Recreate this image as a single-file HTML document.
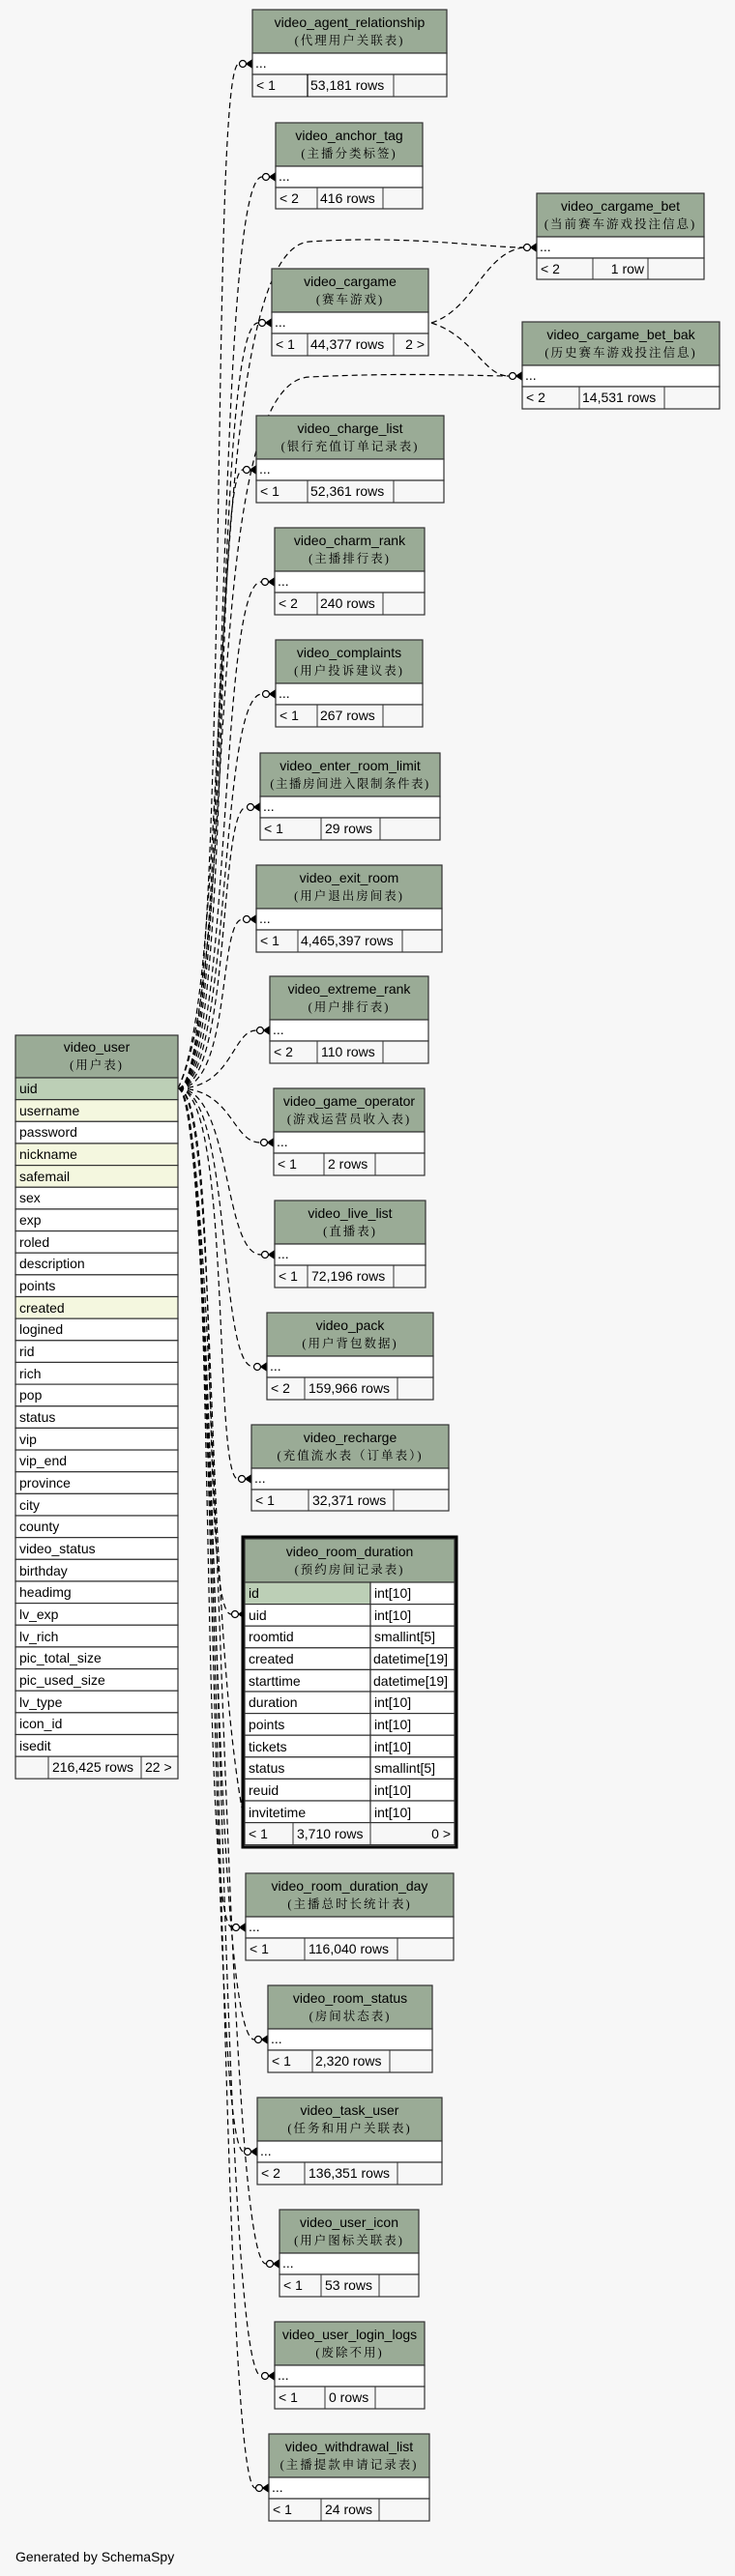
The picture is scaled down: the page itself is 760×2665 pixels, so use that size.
<!DOCTYPE html>
<html><head><meta charset="utf-8"><style>
html,body{margin:0;padding:0;background:#f7f7f7;}
svg{display:block;}
.t{font-family:"Liberation Sans","Noto Sans CJK SC",sans-serif;font-size:14px;fill:#000;}
.s{font-family:"Liberation Serif","Noto Serif CJK SC",serif;font-size:12.5px;letter-spacing:2px;fill:#000;}
.h{fill:#9aab96;stroke:#333;stroke-width:1.2;}
.w{fill:#fff;stroke:#333;stroke-width:1.2;}
.f{fill:#f7f7f7;stroke:#333;stroke-width:1.2;}
.k{fill:#bccfb6;stroke:#333;stroke-width:1.2;}
.y{fill:#f4f7df;stroke:#333;stroke-width:1.2;}
.c{fill:none;stroke:#000;stroke-width:1.2;stroke-dasharray:6,4;}
.m{fill:#fff;stroke:#000;stroke-width:1.2;}
.l{stroke:#000;stroke-width:1.5;}
</style></head><body>
<svg width="760" height="2665" viewBox="0 0 760 2665" xmlns="http://www.w3.org/2000/svg">
<rect width="760" height="2665" fill="#f7f7f7"/>

<!-- connectors -->
<g>
<path class="c" d="M184,1126 C240,1126 215,66 247,66"/>
<path class="c" d="M184,1126 C240,1126 220,183 271,183"/>
<path class="c" d="M184,1126 C245,1000 205,258 320,250 C420,243 500,256 541,256"/>
<path class="c" d="M184,1126 C240,1126 218,334 267,334"/>
<path class="c" d="M184,1126 C248,1000 205,395 320,390 C420,385 500,389 526,389"/>
<path class="c" d="M446,334 C490,320 500,262 541,256"/>
<path class="c" d="M446,334 C490,348 500,389 526,389"/>
<path class="c" d="M184,1126 C240,1126 220,486 251,486"/>
<path class="c" d="M184,1126 C240,1126 225,602 270,602"/>
<path class="c" d="M184,1126 C240,1126 225,718 271,718"/>
<path class="c" d="M184,1126 C240,1126 225,835 255,835"/>
<path class="c" d="M184,1126 C240,1126 225,951 251,951"/>
<path class="c" d="M184,1126 C240,1126 240,1066 265,1066"/>
<path class="c" d="M184,1126 C240,1126 240,1182 269,1182"/>
<path class="c" d="M184,1126 C240,1126 230,1298 270,1298"/>
<path class="c" d="M184,1126 C240,1126 225,1414 262,1414"/>
<path class="c" d="M184,1126 C240,1126 220,1530 246,1530"/>
<path class="c" d="M184,1126 C230,1126 205,1670 239,1670"/>
<path class="c" d="M184,1126 C225,1126 205,1994 240,1994"/>
<path class="c" d="M184,1126 C225,1126 215,2110 263,2110"/>
<path class="c" d="M184,1126 C225,1126 215,2226 252,2226"/>
<path class="c" d="M184,1126 C228,1126 230,2342 275,2342"/>
<path class="c" d="M184,1126 C228,1126 225,2458 270,2458"/>
<path class="c" d="M184,1126 C228,1126 225,2574 264,2574"/>
<path class="c" d="M184,1126 C225,1126 210,1640 250,1870"/>
</g>

<!-- crow's feet -->
<g>
<circle class="m" cx="251" cy="66" r="3.5"/><path class="l" d="M261,62 L255,66 L261,70 M255,66 L261,66"/>
<circle class="m" cx="275" cy="183" r="3.5"/><path class="l" d="M285,179 L279,183 L285,187 M279,183 L285,183"/>
<circle class="m" cx="545" cy="256" r="3.5"/><path class="l" d="M555,252 L549,256 L555,260 M549,256 L555,256"/>
<circle class="m" cx="271" cy="334" r="3.5"/><path class="l" d="M281,330 L275,334 L281,338 M275,334 L281,334"/>
<circle class="m" cx="530" cy="389" r="3.5"/><path class="l" d="M540,385 L534,389 L540,393 M534,389 L540,389"/>
<circle class="m" cx="255" cy="486" r="3.5"/><path class="l" d="M265,482 L259,486 L265,490 M259,486 L265,486"/>
<circle class="m" cx="274" cy="602" r="3.5"/><path class="l" d="M284,598 L278,602 L284,606 M278,602 L284,602"/>
<circle class="m" cx="275" cy="718" r="3.5"/><path class="l" d="M285,714 L279,718 L285,722 M279,718 L285,718"/>
<circle class="m" cx="259" cy="835" r="3.5"/><path class="l" d="M269,831 L263,835 L269,839 M263,835 L269,835"/>
<circle class="m" cx="255" cy="951" r="3.5"/><path class="l" d="M265,947 L259,951 L265,955 M259,951 L265,951"/>
<circle class="m" cx="269" cy="1066" r="3.5"/><path class="l" d="M279,1062 L273,1066 L279,1070 M273,1066 L279,1066"/>
<circle class="m" cx="273" cy="1182" r="3.5"/><path class="l" d="M283,1178 L277,1182 L283,1186 M277,1182 L283,1182"/>
<circle class="m" cx="274" cy="1298" r="3.5"/><path class="l" d="M284,1294 L278,1298 L284,1302 M278,1298 L284,1298"/>
<circle class="m" cx="266" cy="1414" r="3.5"/><path class="l" d="M276,1410 L270,1414 L276,1418 M270,1414 L276,1414"/>
<circle class="m" cx="250" cy="1530" r="3.5"/><path class="l" d="M260,1526 L254,1530 L260,1534 M254,1530 L260,1530"/>
<circle class="m" cx="243" cy="1670" r="3.5"/><path class="l" d="M253,1666 L247,1670 L253,1674 M247,1670 L253,1670"/>
<circle class="m" cx="244" cy="1994" r="3.5"/><path class="l" d="M254,1990 L248,1994 L254,1998 M248,1994 L254,1994"/>
<circle class="m" cx="267" cy="2110" r="3.5"/><path class="l" d="M277,2106 L271,2110 L277,2114 M271,2110 L277,2110"/>
<circle class="m" cx="256" cy="2226" r="3.5"/><path class="l" d="M266,2222 L260,2226 L266,2230 M260,2226 L266,2226"/>
<circle class="m" cx="279" cy="2342" r="3.5"/><path class="l" d="M289,2338 L283,2342 L289,2346 M283,2342 L289,2342"/>
<circle class="m" cx="274" cy="2458" r="3.5"/><path class="l" d="M284,2454 L278,2458 L284,2462 M278,2458 L284,2458"/>
<circle class="m" cx="268" cy="2574" r="3.5"/><path class="l" d="M278,2570 L272,2574 L278,2578 M272,2574 L278,2574"/>
</g>

<!-- simple tables -->
<g>
<!-- agent -->
<rect class="h" x="261" y="10" width="201" height="45"/><text class="t" x="361.5" y="28" text-anchor="middle">video_agent_relationship</text><text class="s" x="361.5" y="46" text-anchor="middle">(代理用户关联表)</text>
<rect class="w" x="261" y="55" width="201" height="22"/><text class="t" x="264" y="70">...</text>
<rect class="f" x="261" y="77" width="201" height="23"/><line class="l" x1="318" y1="77" x2="318" y2="100" style="stroke-width:1.2"/><line x1="407" y1="77" x2="407" y2="100" stroke="#333"/>
<text class="t" x="265" y="93">&lt; 1</text><text class="t" x="321" y="93">53,181 rows</text>

<!-- anchor -->
<rect class="h" x="285" y="127" width="152" height="45"/><text class="t" x="361" y="145" text-anchor="middle">video_anchor_tag</text><text class="s" x="361" y="163" text-anchor="middle">(主播分类标签)</text>
<rect class="w" x="285" y="172" width="152" height="22"/><text class="t" x="288" y="187">...</text>
<rect class="f" x="285" y="194" width="152" height="22"/><line x1="328" y1="194" x2="328" y2="216" stroke="#333"/><line x1="396" y1="194" x2="396" y2="216" stroke="#333"/>
<text class="t" x="289" y="210">&lt; 2</text><text class="t" x="331" y="210">416 rows</text>

<!-- cargame_bet -->
<rect class="h" x="555" y="200" width="173" height="45"/><text class="t" x="641.5" y="218" text-anchor="middle">video_cargame_bet</text><text class="s" x="641.5" y="236" text-anchor="middle">(当前赛车游戏投注信息)</text>
<rect class="w" x="555" y="245" width="173" height="22"/><text class="t" x="558" y="260">...</text>
<rect class="f" x="555" y="267" width="173" height="22"/><line x1="613" y1="267" x2="613" y2="289" stroke="#333"/><line x1="670" y1="267" x2="670" y2="289" stroke="#333"/>
<text class="t" x="559" y="283">&lt; 2</text><text class="t" x="666" y="283" text-anchor="end">1 row</text>

<!-- cargame -->
<rect class="h" x="281" y="278" width="162" height="45"/><text class="t" x="362" y="296" text-anchor="middle">video_cargame</text><text class="s" x="362" y="314" text-anchor="middle">(赛车游戏)</text>
<rect class="w" x="281" y="323" width="162" height="22"/><text class="t" x="284" y="338">...</text>
<rect class="f" x="281" y="345" width="162" height="23"/><line x1="318" y1="345" x2="318" y2="368" stroke="#333"/><line x1="407" y1="345" x2="407" y2="368" stroke="#333"/>
<text class="t" x="285" y="361">&lt; 1</text><text class="t" x="321" y="361">44,377 rows</text><text class="t" x="439" y="361" text-anchor="end">2 &gt;</text>

<!-- bet_bak -->
<rect class="h" x="540" y="333" width="204" height="45"/><text class="t" x="642" y="351" text-anchor="middle">video_cargame_bet_bak</text><text class="s" x="642" y="369" text-anchor="middle">(历史赛车游戏投注信息)</text>
<rect class="w" x="540" y="378" width="204" height="22"/><text class="t" x="543" y="393">...</text>
<rect class="f" x="540" y="400" width="204" height="23"/><line x1="599" y1="400" x2="599" y2="423" stroke="#333"/><line x1="687" y1="400" x2="687" y2="423" stroke="#333"/>
<text class="t" x="544" y="416">&lt; 2</text><text class="t" x="602" y="416">14,531 rows</text>

<!-- charge_list -->
<rect class="h" x="265" y="430" width="194" height="45"/><text class="t" x="362" y="448" text-anchor="middle">video_charge_list</text><text class="s" x="362" y="466" text-anchor="middle">(银行充值订单记录表)</text>
<rect class="w" x="265" y="475" width="194" height="22"/><text class="t" x="268" y="490">...</text>
<rect class="f" x="265" y="497" width="194" height="23"/><line x1="318" y1="497" x2="318" y2="520" stroke="#333"/><line x1="407" y1="497" x2="407" y2="520" stroke="#333"/>
<text class="t" x="269" y="513">&lt; 1</text><text class="t" x="321" y="513">52,361 rows</text>

<!-- charm_rank -->
<rect class="h" x="284" y="546" width="155" height="45"/><text class="t" x="361.5" y="564" text-anchor="middle">video_charm_rank</text><text class="s" x="361.5" y="582" text-anchor="middle">(主播排行表)</text>
<rect class="w" x="284" y="591" width="155" height="22"/><text class="t" x="287" y="606">...</text>
<rect class="f" x="284" y="613" width="155" height="23"/><line x1="328" y1="613" x2="328" y2="636" stroke="#333"/><line x1="396" y1="613" x2="396" y2="636" stroke="#333"/>
<text class="t" x="288" y="629">&lt; 2</text><text class="t" x="331" y="629">240 rows</text>

<!-- complaints -->
<rect class="h" x="285" y="662" width="152" height="45"/><text class="t" x="361" y="680" text-anchor="middle">video_complaints</text><text class="s" x="361" y="698" text-anchor="middle">(用户投诉建议表)</text>
<rect class="w" x="285" y="707" width="152" height="22"/><text class="t" x="288" y="722">...</text>
<rect class="f" x="285" y="729" width="152" height="23"/><line x1="328" y1="729" x2="328" y2="752" stroke="#333"/><line x1="396" y1="729" x2="396" y2="752" stroke="#333"/>
<text class="t" x="289" y="745">&lt; 1</text><text class="t" x="331" y="745">267 rows</text>

<!-- enter_room_limit -->
<rect class="h" x="269" y="779" width="186" height="45"/><text class="t" x="362" y="797" text-anchor="middle">video_enter_room_limit</text><text class="s" x="362" y="815" text-anchor="middle" style="letter-spacing:1.5px">(主播房间进入限制条件表)</text>
<rect class="w" x="269" y="824" width="186" height="22"/><text class="t" x="272" y="839">...</text>
<rect class="f" x="269" y="846" width="186" height="23"/><line x1="332" y1="846" x2="332" y2="869" stroke="#333"/><line x1="393" y1="846" x2="393" y2="869" stroke="#333"/>
<text class="t" x="273" y="862">&lt; 1</text><text class="t" x="336" y="862">29 rows</text>

<!-- exit_room -->
<rect class="h" x="265" y="895" width="192" height="45"/><text class="t" x="361" y="913" text-anchor="middle">video_exit_room</text><text class="s" x="361" y="931" text-anchor="middle">(用户退出房间表)</text>
<rect class="w" x="265" y="940" width="192" height="22"/><text class="t" x="268" y="955">...</text>
<rect class="f" x="265" y="962" width="192" height="23"/><line x1="308" y1="962" x2="308" y2="985" stroke="#333"/><line x1="416" y1="962" x2="416" y2="985" stroke="#333"/>
<text class="t" x="269" y="978">&lt; 1</text><text class="t" x="311" y="978">4,465,397 rows</text>

<!-- extreme_rank -->
<rect class="h" x="279" y="1010" width="164" height="45"/><text class="t" x="361" y="1028" text-anchor="middle">video_extreme_rank</text><text class="s" x="361" y="1046" text-anchor="middle">(用户排行表)</text>
<rect class="w" x="279" y="1055" width="164" height="22"/><text class="t" x="282" y="1070">...</text>
<rect class="f" x="279" y="1077" width="164" height="23"/><line x1="328" y1="1077" x2="328" y2="1100" stroke="#333"/><line x1="396" y1="1077" x2="396" y2="1100" stroke="#333"/>
<text class="t" x="283" y="1093">&lt; 2</text><text class="t" x="332" y="1093">110 rows</text>

<!-- game_operator -->
<rect class="h" x="283" y="1126" width="156" height="45"/><text class="t" x="361" y="1144" text-anchor="middle">video_game_operator</text><text class="s" x="361" y="1162" text-anchor="middle">(游戏运营员收入表)</text>
<rect class="w" x="283" y="1171" width="156" height="22"/><text class="t" x="286" y="1186">...</text>
<rect class="f" x="283" y="1193" width="156" height="23"/><line x1="335" y1="1193" x2="335" y2="1216" stroke="#333"/><line x1="388" y1="1193" x2="388" y2="1216" stroke="#333"/>
<text class="t" x="287" y="1209">&lt; 1</text><text class="t" x="339" y="1209">2 rows</text>

<!-- live_list -->
<rect class="h" x="284" y="1242" width="156" height="45"/><text class="t" x="362" y="1260" text-anchor="middle">video_live_list</text><text class="s" x="362" y="1278" text-anchor="middle">(直播表)</text>
<rect class="w" x="284" y="1287" width="156" height="22"/><text class="t" x="287" y="1302">...</text>
<rect class="f" x="284" y="1309" width="156" height="23"/><line x1="318" y1="1309" x2="318" y2="1332" stroke="#333"/><line x1="407" y1="1309" x2="407" y2="1332" stroke="#333"/>
<text class="t" x="288" y="1325">&lt; 1</text><text class="t" x="322" y="1325">72,196 rows</text>

<!-- pack -->
<rect class="h" x="276" y="1358" width="172" height="45"/><text class="t" x="362" y="1376" text-anchor="middle">video_pack</text><text class="s" x="362" y="1394" text-anchor="middle">(用户背包数据)</text>
<rect class="w" x="276" y="1403" width="172" height="22"/><text class="t" x="279" y="1418">...</text>
<rect class="f" x="276" y="1425" width="172" height="23"/><line x1="315" y1="1425" x2="315" y2="1448" stroke="#333"/><line x1="411" y1="1425" x2="411" y2="1448" stroke="#333"/>
<text class="t" x="280" y="1441">&lt; 2</text><text class="t" x="319" y="1441">159,966 rows</text>

<!-- recharge -->
<rect class="h" x="260" y="1474" width="204" height="45"/><text class="t" x="362" y="1492" text-anchor="middle">video_recharge</text><text class="s" x="362" y="1510" text-anchor="middle">(充值流水表（订单表）)</text>
<rect class="w" x="260" y="1519" width="204" height="22"/><text class="t" x="263" y="1534">...</text>
<rect class="f" x="260" y="1541" width="204" height="22"/><line x1="319" y1="1541" x2="319" y2="1563" stroke="#333"/><line x1="407" y1="1541" x2="407" y2="1563" stroke="#333"/>
<text class="t" x="264" y="1557">&lt; 1</text><text class="t" x="323" y="1557">32,371 rows</text>

<!-- room_duration_day -->
<rect class="h" x="254" y="1938" width="215" height="45"/><text class="t" x="361.5" y="1956" text-anchor="middle">video_room_duration_day</text><text class="s" x="361.5" y="1974" text-anchor="middle">(主播总时长统计表)</text>
<rect class="w" x="254" y="1983" width="215" height="22"/><text class="t" x="257" y="1998">...</text>
<rect class="f" x="254" y="2005" width="215" height="23"/><line x1="315" y1="2005" x2="315" y2="2028" stroke="#333"/><line x1="411" y1="2005" x2="411" y2="2028" stroke="#333"/>
<text class="t" x="258" y="2021">&lt; 1</text><text class="t" x="319" y="2021">116,040 rows</text>

<!-- room_status -->
<rect class="h" x="277" y="2054" width="170" height="45"/><text class="t" x="362" y="2072" text-anchor="middle">video_room_status</text><text class="s" x="362" y="2090" text-anchor="middle">(房间状态表)</text>
<rect class="w" x="277" y="2099" width="170" height="22"/><text class="t" x="280" y="2114">...</text>
<rect class="f" x="277" y="2121" width="170" height="23"/><line x1="323" y1="2121" x2="323" y2="2144" stroke="#333"/><line x1="403" y1="2121" x2="403" y2="2144" stroke="#333"/>
<text class="t" x="281" y="2137">&lt; 1</text><text class="t" x="326" y="2137">2,320 rows</text>

<!-- task_user -->
<rect class="h" x="266" y="2170" width="191" height="45"/><text class="t" x="361.5" y="2188" text-anchor="middle">video_task_user</text><text class="s" x="361.5" y="2206" text-anchor="middle">(任务和用户关联表)</text>
<rect class="w" x="266" y="2215" width="191" height="22"/><text class="t" x="269" y="2230">...</text>
<rect class="f" x="266" y="2237" width="191" height="23"/><line x1="315" y1="2237" x2="315" y2="2260" stroke="#333"/><line x1="411" y1="2237" x2="411" y2="2260" stroke="#333"/>
<text class="t" x="270" y="2253">&lt; 2</text><text class="t" x="319" y="2253">136,351 rows</text>

<!-- user_icon -->
<rect class="h" x="289" y="2286" width="144" height="45"/><text class="t" x="361" y="2304" text-anchor="middle">video_user_icon</text><text class="s" x="361" y="2322" text-anchor="middle">(用户图标关联表)</text>
<rect class="w" x="289" y="2331" width="144" height="22"/><text class="t" x="292" y="2346">...</text>
<rect class="f" x="289" y="2353" width="144" height="23"/><line x1="332" y1="2353" x2="332" y2="2376" stroke="#333"/><line x1="392" y1="2353" x2="392" y2="2376" stroke="#333"/>
<text class="t" x="293" y="2369">&lt; 1</text><text class="t" x="336" y="2369">53 rows</text>

<!-- login_logs -->
<rect class="h" x="284" y="2402" width="155" height="45"/><text class="t" x="361.5" y="2420" text-anchor="middle">video_user_login_logs</text><text class="s" x="361.5" y="2438" text-anchor="middle">(废除不用)</text>
<rect class="w" x="284" y="2447" width="155" height="22"/><text class="t" x="287" y="2462">...</text>
<rect class="f" x="284" y="2469" width="155" height="23"/><line x1="336" y1="2469" x2="336" y2="2492" stroke="#333"/><line x1="388" y1="2469" x2="388" y2="2492" stroke="#333"/>
<text class="t" x="288" y="2485">&lt; 1</text><text class="t" x="340" y="2485">0 rows</text>

<!-- withdrawal -->
<rect class="h" x="278" y="2518" width="166" height="45"/><text class="t" x="361" y="2536" text-anchor="middle">video_withdrawal_list</text><text class="s" x="361" y="2554" text-anchor="middle">(主播提款申请记录表)</text>
<rect class="w" x="278" y="2563" width="166" height="22"/><text class="t" x="281" y="2578">...</text>
<rect class="f" x="278" y="2585" width="166" height="23"/><line x1="332" y1="2585" x2="332" y2="2608" stroke="#333"/><line x1="392" y1="2585" x2="392" y2="2608" stroke="#333"/>
<text class="t" x="282" y="2601">&lt; 1</text><text class="t" x="336" y="2601">24 rows</text>
</g>

<!-- video_room_duration -->
<g>
<rect x="251" y="1590" width="221" height="321" fill="none" stroke="#000" stroke-width="3"/>
<rect class="h" x="253" y="1592" width="217" height="45"/><text class="t" x="361.5" y="1610" text-anchor="middle">video_room_duration</text><text class="s" x="361.5" y="1628" text-anchor="middle">(预约房间记录表)</text>
<rect class="k" x="253" y="1637" width="130" height="22.6"/><rect class="w" x="383" y="1637" width="87" height="22.6"/><text class="t" x="257" y="1653">id</text><text class="t" x="387" y="1653">int[10]</text>
<rect class="w" x="253" y="1659.6" width="130" height="22.6"/><rect class="w" x="383" y="1659.6" width="87" height="22.6"/><text class="t" x="257" y="1676">uid</text><text class="t" x="387" y="1676">int[10]</text>
<rect class="w" x="253" y="1682.2" width="130" height="22.6"/><rect class="w" x="383" y="1682.2" width="87" height="22.6"/><text class="t" x="257" y="1698">roomtid</text><text class="t" x="387" y="1698">smallint[5]</text>
<rect class="w" x="253" y="1704.8" width="130" height="22.6"/><rect class="w" x="383" y="1704.8" width="87" height="22.6"/><text class="t" x="257" y="1721">created</text><text class="t" x="386" y="1721">datetime[19]</text>
<rect class="w" x="253" y="1727.4" width="130" height="22.6"/><rect class="w" x="383" y="1727.4" width="87" height="22.6"/><text class="t" x="257" y="1744">starttime</text><text class="t" x="386" y="1744">datetime[19]</text>
<rect class="w" x="253" y="1750" width="130" height="22.6"/><rect class="w" x="383" y="1750" width="87" height="22.6"/><text class="t" x="257" y="1766">duration</text><text class="t" x="387" y="1766">int[10]</text>
<rect class="w" x="253" y="1772.6" width="130" height="22.6"/><rect class="w" x="383" y="1772.6" width="87" height="22.6"/><text class="t" x="257" y="1789">points</text><text class="t" x="387" y="1789">int[10]</text>
<rect class="w" x="253" y="1795.2" width="130" height="22.6"/><rect class="w" x="383" y="1795.2" width="87" height="22.6"/><text class="t" x="257" y="1812">tickets</text><text class="t" x="387" y="1812">int[10]</text>
<rect class="w" x="253" y="1817.8" width="130" height="22.6"/><rect class="w" x="383" y="1817.8" width="87" height="22.6"/><text class="t" x="257" y="1834">status</text><text class="t" x="387" y="1834">smallint[5]</text>
<rect class="w" x="253" y="1840.4" width="130" height="22.6"/><rect class="w" x="383" y="1840.4" width="87" height="22.6"/><text class="t" x="257" y="1857">reuid</text><text class="t" x="387" y="1857">int[10]</text>
<rect class="w" x="253" y="1863" width="130" height="22.6"/><rect class="w" x="383" y="1863" width="87" height="22.6"/><text class="t" x="257" y="1880">invitetime</text><text class="t" x="387" y="1880">int[10]</text>
<rect class="f" x="253" y="1885.6" width="217" height="23"/><line x1="303" y1="1885.6" x2="303" y2="1908.6" stroke="#333"/><line x1="383" y1="1885.6" x2="383" y2="1908.6" stroke="#333"/>
<text class="t" x="257" y="1902">&lt; 1</text><text class="t" x="307" y="1902">3,710 rows</text><text class="t" x="466" y="1902" text-anchor="end">0 &gt;</text>
</g>

<!-- video_user -->
<g>
<rect class="h" x="16" y="1071" width="168" height="44"/><text class="t" x="100" y="1088" text-anchor="middle">video_user</text><text class="s" x="100" y="1106" text-anchor="middle">(用户表)</text>
<rect class="k" x="16" y="1115" width="168" height="22.65"/><text class="t" x="20" y="1131">uid</text>
<rect class="y" x="16" y="1137.65" width="168" height="22.65"/><text class="t" x="20" y="1154">username</text>
<rect class="w" x="16" y="1160.3" width="168" height="22.65"/><text class="t" x="20" y="1176">password</text>
<rect class="y" x="16" y="1182.95" width="168" height="22.65"/><text class="t" x="20" y="1199">nickname</text>
<rect class="y" x="16" y="1205.6" width="168" height="22.65"/><text class="t" x="20" y="1222">safemail</text>
<rect class="w" x="16" y="1228.25" width="168" height="22.65"/><text class="t" x="20" y="1244">sex</text>
<rect class="w" x="16" y="1250.9" width="168" height="22.65"/><text class="t" x="20" y="1267">exp</text>
<rect class="w" x="16" y="1273.55" width="168" height="22.65"/><text class="t" x="20" y="1290">roled</text>
<rect class="w" x="16" y="1296.2" width="168" height="22.65"/><text class="t" x="20" y="1312">description</text>
<rect class="w" x="16" y="1318.85" width="168" height="22.65"/><text class="t" x="20" y="1335">points</text>
<rect class="y" x="16" y="1341.5" width="168" height="22.65"/><text class="t" x="20" y="1358">created</text>
<rect class="w" x="16" y="1364.15" width="168" height="22.65"/><text class="t" x="20" y="1380">logined</text>
<rect class="w" x="16" y="1386.8" width="168" height="22.65"/><text class="t" x="20" y="1403">rid</text>
<rect class="w" x="16" y="1409.45" width="168" height="22.65"/><text class="t" x="20" y="1426">rich</text>
<rect class="w" x="16" y="1432.1" width="168" height="22.65"/><text class="t" x="20" y="1448">pop</text>
<rect class="w" x="16" y="1454.75" width="168" height="22.65"/><text class="t" x="20" y="1471">status</text>
<rect class="w" x="16" y="1477.4" width="168" height="22.65"/><text class="t" x="20" y="1494">vip</text>
<rect class="w" x="16" y="1500.05" width="168" height="22.65"/><text class="t" x="20" y="1516">vip_end</text>
<rect class="w" x="16" y="1522.7" width="168" height="22.65"/><text class="t" x="20" y="1539">province</text>
<rect class="w" x="16" y="1545.35" width="168" height="22.65"/><text class="t" x="20" y="1562">city</text>
<rect class="w" x="16" y="1568" width="168" height="22.65"/><text class="t" x="20" y="1584">county</text>
<rect class="w" x="16" y="1590.65" width="168" height="22.65"/><text class="t" x="20" y="1607">video_status</text>
<rect class="w" x="16" y="1613.3" width="168" height="22.65"/><text class="t" x="20" y="1630">birthday</text>
<rect class="w" x="16" y="1635.95" width="168" height="22.65"/><text class="t" x="20" y="1652">headimg</text>
<rect class="w" x="16" y="1658.6" width="168" height="22.65"/><text class="t" x="20" y="1675">lv_exp</text>
<rect class="w" x="16" y="1681.25" width="168" height="22.65"/><text class="t" x="20" y="1698">lv_rich</text>
<rect class="w" x="16" y="1703.9" width="168" height="22.65"/><text class="t" x="20" y="1720">pic_total_size</text>
<rect class="w" x="16" y="1726.55" width="168" height="22.65"/><text class="t" x="20" y="1743">pic_used_size</text>
<rect class="w" x="16" y="1749.2" width="168" height="22.65"/><text class="t" x="20" y="1766">lv_type</text>
<rect class="w" x="16" y="1771.85" width="168" height="22.65"/><text class="t" x="20" y="1788">icon_id</text>
<rect class="w" x="16" y="1794.5" width="168" height="22.65"/><text class="t" x="20" y="1811">isedit</text>
<rect class="f" x="16" y="1817.15" width="168" height="23"/><line x1="50" y1="1817" x2="50" y2="1840" stroke="#333"/><line x1="146" y1="1817" x2="146" y2="1840" stroke="#333"/>
<text class="t" x="54" y="1833">216,425 rows</text><text class="t" x="150" y="1833">22 &gt;</text>
</g>

<text class="t" x="16" y="2650">Generated by SchemaSpy</text>
</svg>
</body></html>
